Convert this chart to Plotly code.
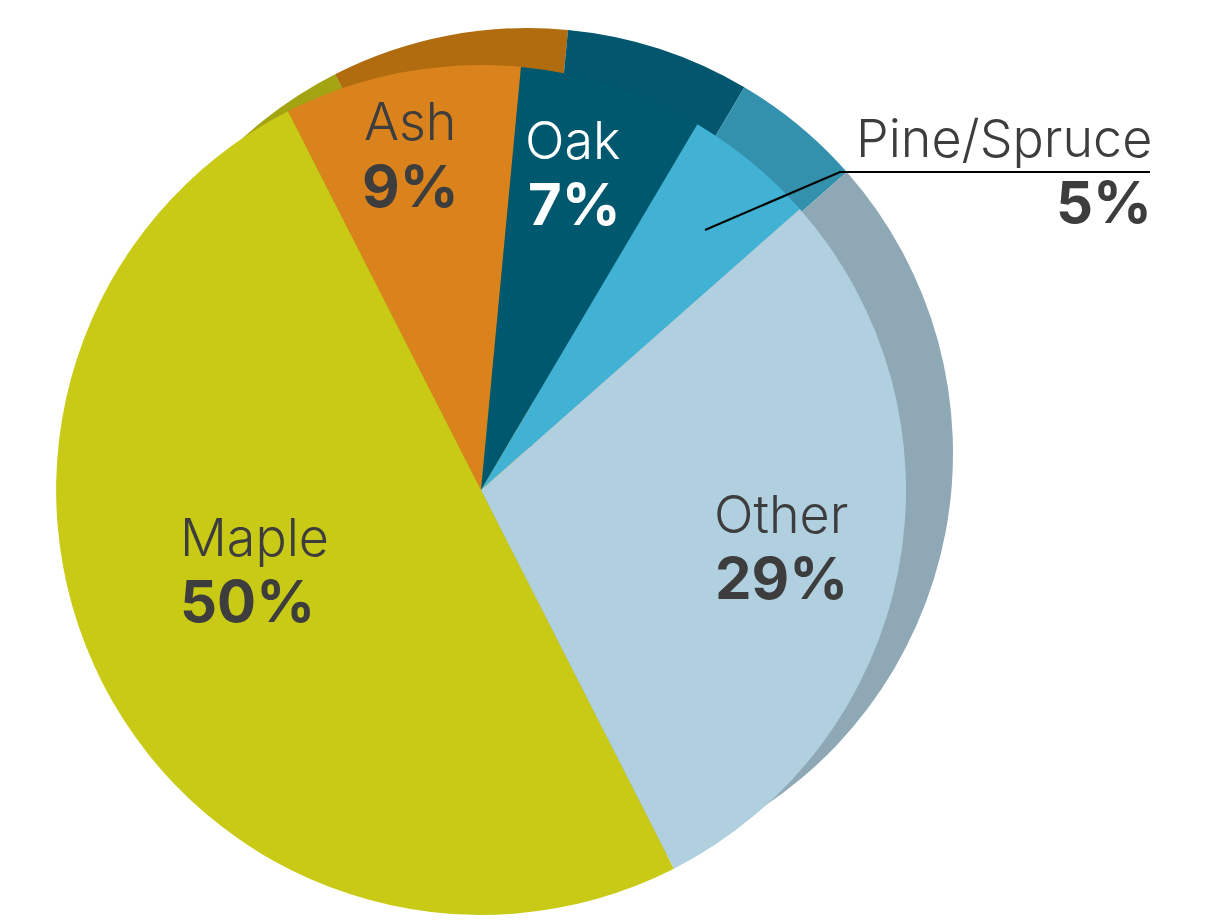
import plotly.graph_objects as go

# ---- data ----
labels = ["Maple", "Ash", "Oak", "Pine/Spruce", "Other"]
values = [50, 9, 7, 5, 29]
face_colors = ["#c9ca16", "#da831d", "#00586f", "#41b2d4", "#b0d0e0"]
rim_colors = ["#a4a312", "#b06c0f", "#02566d", "#3491ae", "#8fa8b5"]
label_colors = ["#3d3d3d", "#3d3d3d", "#ffffff", "#3d3d3d", "#3d3d3d"]

W, H = 1226, 923
OFF = 8          # default page body margin of the exported html
R = 425
front_c = (481, 490)   # screen pixels
back_c = (528, 453)


def px(X, Y):
    """screen pixel -> paper coordinates"""
    return (X - OFF) / W, (H - (Y - OFF)) / H


def dom(c):
    cx, cy = c[0] - OFF, c[1] - OFF
    return dict(x=[(cx - R) / W, (cx + R) / W],
                y=[(H - cy - R) / H, (H - cy + R) / H])


fig = go.Figure()
for c, cols in [(back_c, rim_colors), (front_c, face_colors)]:
    fig.add_trace(go.Pie(
        labels=labels, values=values, sort=False, direction="clockwise",
        rotation=153, domain=dom(c), textinfo="none", hoverinfo="label+percent",
        marker=dict(colors=cols, line=dict(width=0)), showlegend=False,
    ))

# label placement (screen pixel positions, anchors)
label_pos = {
    "Maple": dict(x=178, y1=537, y2=601, xanchor="left"),
    "Ash": dict(x=410, y1=121, y2=186, xanchor="center"),
    "Oak": dict(x=623, y1=141, y2=204, xanchor="right"),
    "Pine/Spruce": dict(x=1154, y1=138, y2=202, xanchor="right"),
    "Other": dict(x=850, y1=515, y2=578, xanchor="right"),
}
FONT = "Inter, Lato, sans-serif"
for lab, val, col in zip(labels, values, label_colors):
    p = label_pos[lab]
    x1, y1 = px(p["x"], p["y1"])
    x2, y2 = px(p["x"], p["y2"])
    fig.add_annotation(x=x1, y=y1, xref="paper", yref="paper",
                       text=lab, showarrow=False, xanchor=p["xanchor"], yanchor="middle",
                       font=dict(family=FONT, size=52, color=col, weight=300))
    fig.add_annotation(x=x2, y=y2, xref="paper", yref="paper",
                       text=f"{val}%", showarrow=False, xanchor=p["xanchor"], yanchor="middle",
                       font=dict(family=FONT, size=58, color=col, weight=700))

# leader line for Pine/Spruce
a = px(705, 230)
b = px(840, 172)
c = px(1150, 172)
fig.add_shape(type="path", xref="paper", yref="paper",
              path=f"M {a[0]},{a[1]} L {b[0]},{b[1]} L {c[0]},{c[1]}",
              line=dict(color="#000000", width=2.2))

fig.update_layout(width=W, height=H, margin=dict(l=0, r=0, t=0, b=0),
                  paper_bgcolor="white", plot_bgcolor="white", showlegend=False)
fig.write_html("out.html")
